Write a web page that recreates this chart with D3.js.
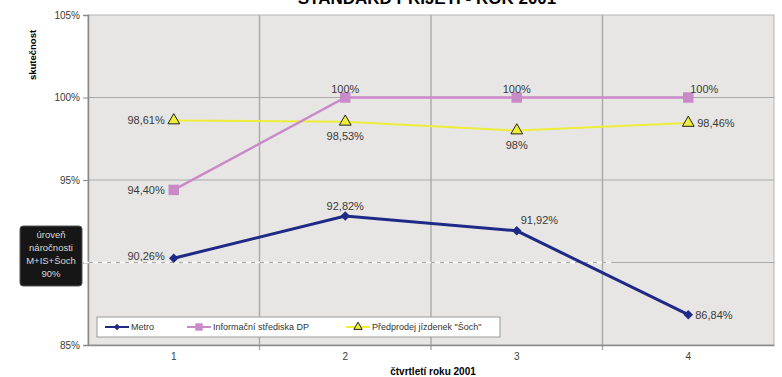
<!DOCTYPE html>
<html lang="cs">
<head>
<meta charset="utf-8">
<title>Standard přijetí - rok 2001</title>
<script src="https://d3js.org/d3.v7.min.js"></script>
<style>
  html, body { margin: 0; padding: 0; background: #fff; }
  svg { display: block; font-family: "Liberation Sans", Arial, sans-serif; }
  .lbl { font-size: 11px; fill: #3a3a3a; }
  .tick text { font-size: 10px; fill: #3a3a3a; }
</style>
</head>
<body>
<script>
// data
var quarters = ["1", "2", "3", "4"];
var metro = [90.26, 92.82, 91.92, 86.84];
var infoCentres = [94.40, 100, 100, 100];
var soch = [98.61, 98.53, 98, 98.46];
var yTicks = [85, 90, 95, 100, 105];
var threshold = 90;
var labelsMetro = ["90,26%", "92,82%", "91,92%", "86,84%"];
var labelsInfo = ["94,40%", "100%", "100%", "100%"];
var labelsSoch = ["98,61%", "98,53%", "98%", "98,46%"];

var W = 782, H = 377;
// plot area (note: "top" is reserved on window, so use pTop etc.)
var pLeft = 88, pRight = 774, pTop = 15, pBottom = 345;

var svg = d3.select("body").append("svg")
  .attr("width", W).attr("height", H);

var x = d3.scaleBand().domain(quarters).range([pLeft, pRight]);
var y = d3.scaleLinear().domain([85, 105]).range([pBottom, pTop]);
var cx = function(i) { return x(quarters[i]) + x.bandwidth() / 2; };

// title (cut off at the top, as in the original)
svg.append("text")
  .attr("x", 427).attr("y", 4)
  .attr("text-anchor", "middle")
  .style("font-size", "17px").style("font-weight", "bold")
  .text("STANDARD PŘIJETÍ - ROK 2001");

// plot background
svg.append("rect")
  .attr("x", pLeft).attr("y", pTop)
  .attr("width", pRight - pLeft).attr("height", pBottom - pTop)
  .attr("fill", "#e7e6e4").attr("stroke", "#b4b4b4");

// grid
svg.append("g").selectAll("line")
  .data(yTicks.slice(1, -1)).enter().append("line")
  .attr("x1", pLeft).attr("x2", pRight)
  .attr("y1", function(d) { return y(d); }).attr("y2", function(d) { return y(d); })
  .attr("stroke", "#a9a9a9").attr("stroke-width", 1.2);

svg.append("g").selectAll("line")
  .data(quarters.slice(1)).enter().append("line")
  .attr("x1", function(d) { return x(d); }).attr("x2", function(d) { return x(d); })
  .attr("y1", pTop).attr("y2", pBottom + 5)
  .attr("stroke", "#a9a9a9").attr("stroke-width", 1.4);

// axes (90% label sits under the threshold box, so it is left out)
var yAxis = svg.append("g")
  .attr("transform", "translate(" + pLeft + ",0)")
  .call(d3.axisLeft(y).tickValues(yTicks).tickSize(5).tickPadding(3)
    .tickFormat(function(d) { return d === threshold ? "" : d + "%"; }));
yAxis.select(".domain").attr("stroke", "#8a8a8a").attr("stroke-width", 1.5);
yAxis.selectAll(".tick line").attr("stroke", "#8a8a8a");

var xAxis = svg.append("g")
  .attr("transform", "translate(0," + pBottom + ")")
  .call(d3.axisBottom(x).tickSize(0).tickPadding(8));
xAxis.select(".domain").attr("stroke", "#8a8a8a").attr("stroke-width", 1.5);

// axis titles
svg.append("text")
  .attr("transform", "translate(36,55) rotate(-90)")
  .attr("text-anchor", "middle")
  .style("font-size", "9.5px").style("font-weight", "bold")
  .text("skutečnost");

svg.append("text")
  .attr("x", 433).attr("y", 375)
  .attr("text-anchor", "middle")
  .style("font-size", "10px").style("font-weight", "bold")
  .text("čtvrtletí roku 2001");

// threshold line (white dashes)
svg.append("line")
  .attr("x1", pLeft - 4).attr("x2", 613)
  .attr("y1", y(threshold)).attr("y2", y(threshold))
  .attr("stroke", "#fff").attr("stroke-width", 1.5)
  .attr("stroke-dasharray", "5,4");

// threshold box
var box = svg.append("g").attr("transform", "translate(20,226)");
box.append("rect")
  .attr("width", 62).attr("height", 60).attr("rx", 3)
  .attr("fill", "#161616").attr("stroke", "#555");
box.selectAll("text")
  .data(["úroveň", "náročnosti", "M+IS+Šoch", "90%"]).enter().append("text")
  .attr("x", 31).attr("y", function(d, i) { return 12 + i * 13; })
  .attr("text-anchor", "middle")
  .style("font-size", "9.5px").attr("fill", "#d8d8d8")
  .text(function(d) { return d; });

// series
var line = d3.line().x(function(d, i) { return cx(i); }).y(function(d) { return y(d); });
var series = [
  { values: soch, color: "#eded3a", width: 2, sym: d3.symbolTriangle, size: 60, rot: 0 },
  { values: infoCentres, color: "#c98ac8", width: 2.5, sym: d3.symbolSquare, size: 110, rot: 0 },
  { values: metro, color: "#1f2a86", width: 3, sym: d3.symbolSquare, size: 45, rot: 45 }
];

series.forEach(function(s) {
  svg.append("path").datum(s.values)
    .attr("d", line).attr("fill", "none")
    .attr("stroke", s.color).attr("stroke-width", s.width);
  svg.append("g").selectAll("path")
    .data(s.values).enter().append("path")
    .attr("transform", function(d, i) {
      return "translate(" + cx(i) + "," + y(d) + ") rotate(" + s.rot + ")";
    })
    .attr("d", d3.symbol().type(s.sym).size(s.size))
    .attr("fill", s.color)
    .attr("stroke", s.sym === d3.symbolTriangle ? "#222" : "none")
    .attr("stroke-width", 1);
});

// data labels: [dx, dy, anchor] per point
function labels(values, texts, pos) {
  svg.append("g").selectAll("text")
    .data(values).enter().append("text")
    .attr("class", "lbl")
    .attr("x", function(d, i) { return cx(i) + pos[i][0]; })
    .attr("y", function(d, i) { return y(d) + pos[i][1]; })
    .attr("text-anchor", function(d, i) { return pos[i][2]; })
    .text(function(d, i) { return texts[i]; });
}
labels(metro, labelsMetro, [[-9, 2, "end"], [0, -6, "middle"], [4, -7, "start"], [7, 4, "start"]]);
labels(infoCentres, labelsInfo, [[-9, 4, "end"], [0, -5, "middle"], [0, -5, "middle"], [16, -5, "middle"]]);
labels(soch, labelsSoch, [[-9, 4, "end"], [0, 18, "middle"], [0, 18, "middle"], [9, 4, "start"]]);

// legend
var lg = svg.append("g").attr("transform", "translate(97,317)");
lg.append("rect").attr("width", 403).attr("height", 20)
  .attr("fill", "#fff").attr("stroke", "#999");
var legendItems = [
  { name: "Metro", s: series[2], x: 8 },
  { name: "Informační střediska DP", s: series[1], x: 90 },
  { name: "Předprodej jízdenek \"Šoch\"", s: series[0], x: 249 }
];
legendItems.forEach(function(it) {
  var g = lg.append("g").attr("transform", "translate(" + it.x + ",10)");
  g.append("line").attr("x1", 0).attr("x2", 24)
    .attr("stroke", it.s.color).attr("stroke-width", 2);
  g.append("path").attr("transform", "translate(12,0) rotate(" + it.s.rot + ")")
    .attr("d", d3.symbol().type(it.s.sym).size(it.s.size * 0.5))
    .attr("fill", it.s.color)
    .attr("stroke", it.s.sym === d3.symbolTriangle ? "#222" : "none");
  g.append("text").attr("x", 26).attr("y", 3)
    .style("font-size", "9px").attr("fill", "#333")
    .text(it.name);
});
</script>
</body>
</html>
